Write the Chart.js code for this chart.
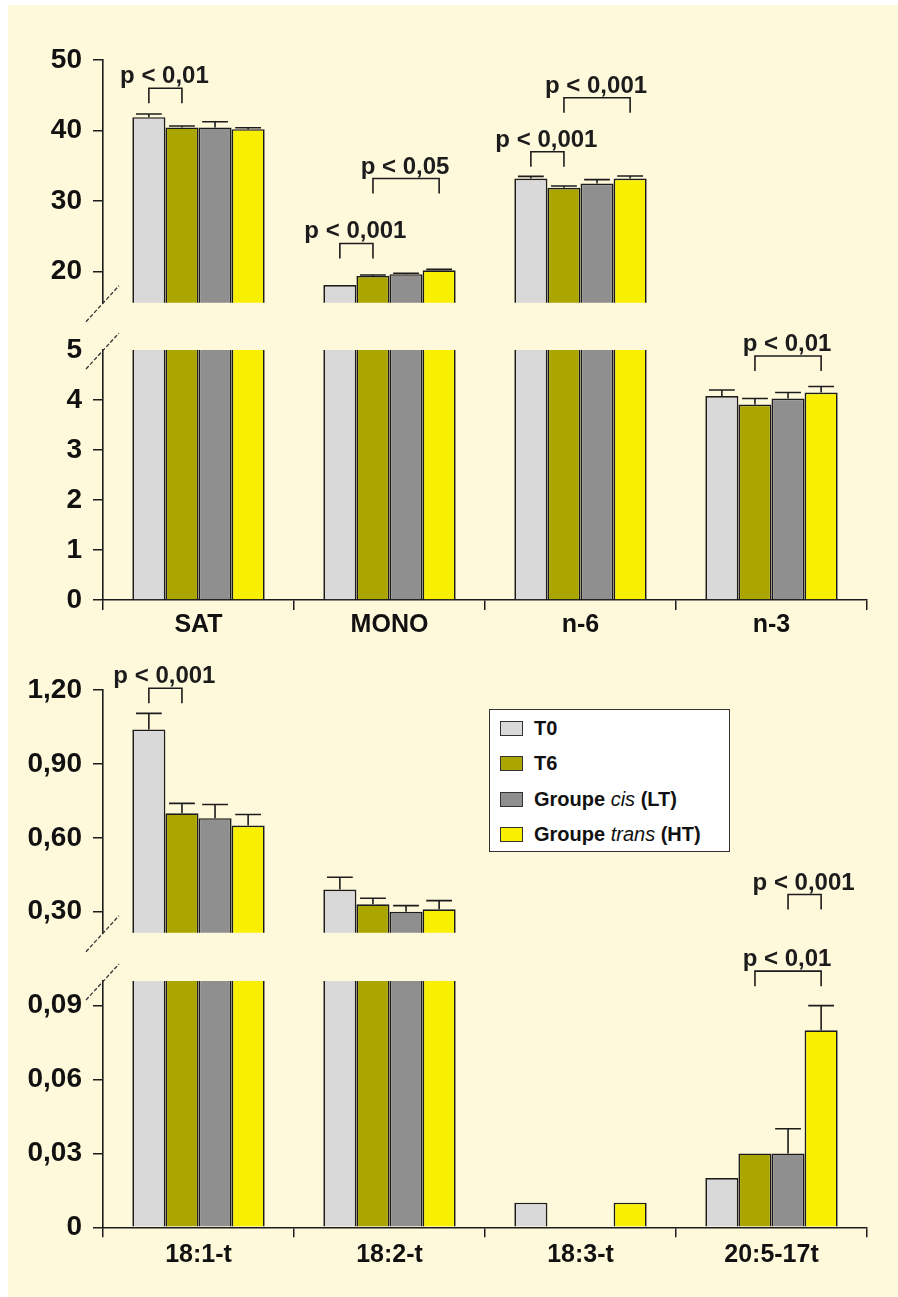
<!DOCTYPE html>
<html>
<head>
<meta charset="utf-8">
<script src="https://cdn.jsdelivr.net/npm/chart.js@4/dist/chart.umd.min.js"></script>
<style>
html,body{margin:0;padding:0;background:#fff;}
#wrap{position:relative;width:898px;height:1297px;overflow:hidden;background:#fff;}
#bg{position:absolute;left:8px;top:5px;right:0;bottom:0;background:#FFF9DC;}
canvas{position:absolute;left:0;}
#legend{position:absolute;left:489px;top:709px;width:241px;height:143px;box-sizing:border-box;background:#fff;border:1.5px solid #333;font:bold 20px "Liberation Sans",Arial,sans-serif;color:#111;}
.li{position:absolute;left:10px;height:20px;display:flex;align-items:center;white-space:nowrap;}
.sw{display:inline-block;width:23px;height:15px;box-sizing:border-box;border:1.5px solid #333;margin-right:11px;}
.li i{font-weight:normal;}
</style>
</head>
<body>
<div id="wrap">
  <div id="bg"></div>
  <canvas id="c1"></canvas>
  <canvas id="c2"></canvas>
  <canvas id="c3"></canvas>
  <canvas id="c4"></canvas>
  <div id="legend"></div>
</div>
<script>
// ---------- DATA ----------
const seriesLabels = ['T0', 'T6', 'Groupe cis (LT)', 'Groupe trans (HT)'];
const seriesItalic = ['', '', 'cis', 'trans'];
const seriesColors = ['#D9D9D9', '#ABA500', '#8F8F8F', '#F8F000'];

const topCategories = ['SAT', 'MONO', 'n-6', 'n-3'];
const topT0    = [41.9, 18.1, 33.2, 4.08];
const topT6    = [40.45, 19.4, 31.9, 3.91];
const topCis   = [40.45, 19.65, 32.5, 4.03];
const topTrans = [40.2, 20.2, 33.2, 4.15];
const topT0Err    = [0.45, 0, 0.3, 0.12];
const topT6Err    = [0.2, 0.12, 0.25, 0.12];
const topCisErr   = [0.8, 0.12, 0.55, 0.12];
const topTransErr = [0.2, 0.12, 0.35, 0.12];

const botCategories = ['18:1-t', '18:2-t', '18:3-t', '20:5-17t'];
const botT0    = [1.04, 0.39, 0.01, 0.02];
const botT6    = [0.70, 0.33, 0, 0.03];
const botCis   = [0.68, 0.30, 0, 0.03];
const botTrans = [0.65, 0.31, 0.01, 0.08];
const botT0Err    = [0.065, 0.05, 0, 0];
const botT6Err    = [0.04, 0.025, 0, 0];
const botCisErr   = [0.055, 0.025, 0, 0.01];
const botTransErr = [0.045, 0.035, 0, 0.01];

// broken axes: upper and lower segments
const topHiRange = [15.6, 50];
const topLoRange = [0, 5];
const botHiRange = [0.215, 1.20];
const botLoRange = [0, 0.10];
const topHiTicks = [20, 30, 40, 50];
const topHiTickLabels = ['20', '30', '40', '50'];
const topLoTicks = [0, 1, 2, 3, 4, 5];
const topLoTickLabels = ['0', '1', '2', '3', '4', '5'];
const botHiTicks = [0.30, 0.60, 0.90, 1.20];
const botHiTickLabels = ['0,30', '0,60', '0,90', '1,20'];
const botLoTicks = [0, 0.03, 0.06, 0.09];
const botLoTickLabels = ['0', '0,03', '0,06', '0,09'];

// significance brackets: [category, series A, series B, bracket level (data units), label]
const topSig = [
  [0, 0, 1, 46.0, 'p < 0,01'],
  [1, 0, 1, 24.0, 'p < 0,001'],
  [1, 1, 3, 33.2, 'p < 0,05'],
  [2, 0, 1, 37.0, 'p < 0,001'],
  [2, 1, 3, 44.65, 'p < 0,001'],
  [3, 1, 3, 4.88, 'p < 0,01']
];
const botSig = [
  [0, 0, 1, 1.207, 'p < 0,001'],
  [3, 2, 3, 0.37, 'p < 0,001'],
  [3, 1, 3, 0.104, 'p < 0,01']
];

// ---------- RENDER ----------
const ink = '#1c1c1c';
Chart.defaults.font.family = '"Liberation Sans", Arial, sans-serif';
Chart.defaults.color = '#111';

const panelPlugin = {
  id: 'panel',
  afterDatasetsDraw(chart, args, opts) {
    const ctx = chart.ctx;
    const ys = chart.scales.y;
    const area = chart.chartArea;
    ctx.save();
    ctx.strokeStyle = ink;
    ctx.lineWidth = 1.6;
    // error bars (upward only)
    chart.data.datasets.forEach((ds, di) => {
      const meta = chart.getDatasetMeta(di);
      ds.errors.forEach((e, i) => {
        const v = ds.data[i];
        if (!e || v < ys.min || v > ys.max) return;
        const bar = meta.data[i];
        const top = ys.getPixelForValue(v + e);
        const cap = bar.width * 0.78;
        ctx.beginPath();
        ctx.moveTo(bar.x, bar.y);
        ctx.lineTo(bar.x, top);
        ctx.moveTo(bar.x - cap / 2, top);
        ctx.lineTo(bar.x + cap / 2, top);
        ctx.stroke();
      });
    });
    // significance brackets
    (opts.sig || []).forEach(([c, a, b, level, text]) => {
      const xa = chart.getDatasetMeta(a).data[c].x;
      const xb = chart.getDatasetMeta(b).data[c].x;
      const yy = ys.getPixelForValue(level);
      ctx.beginPath();
      ctx.moveTo(xa, yy + 15);
      ctx.lineTo(xa, yy);
      ctx.lineTo(xb, yy);
      ctx.lineTo(xb, yy + 15);
      ctx.stroke();
      ctx.font = 'bold 24px "Liberation Sans", Arial, sans-serif';
      ctx.textAlign = 'center';
      ctx.textBaseline = 'alphabetic';
      ctx.fillStyle = ink;
      ctx.fillText(text, (xa + xb) / 2 - 1, yy - 5);
    });
    // axis break mark
    if (opts.brk) {
      const cx = area.left;
      const cy = opts.brk === 'bottom' ? area.bottom : area.top;
      ctx.lineWidth = 1.3;
      ctx.strokeStyle = '#333';
      ctx.setLineDash([4, 2]);
      ctx.beginPath();
      ctx.moveTo(cx - 17, cy + 19);
      ctx.lineTo(cx + 16, cy - 17);
      ctx.stroke();
    }
    ctx.restore();
  }
};

function makeChart(id, top, height, cats, series, errs, range, ticks, tickLabels, sig, brk, showX, padTop, padBottom, xPad) {
  const cv = document.getElementById(id);
  cv.width = 898; cv.height = height;
  cv.style.top = top + 'px';
  cv.style.width = '898px'; cv.style.height = height + 'px';
  const lower = brk === 'top';
  return new Chart(cv, {
    type: 'bar',
    data: {
      labels: cats,
      datasets: series.map((d, i) => ({
        label: seriesLabels[i],
        data: d,
        errors: errs[i],
        backgroundColor: seriesColors[i],
        borderColor: ink,
        borderWidth: 1.7,
        borderSkipped: 'start',
        clip: 0,
        categoryPercentage: 0.693,
        barPercentage: 1
      }))
    },
    options: {
      responsive: false,
      animation: false,
      devicePixelRatio: 1,
      layout: { padding: { left: 0, right: 31, top: padTop, bottom: padBottom } },
      plugins: {
        legend: { display: false },
        tooltip: { enabled: false },
        panel: { sig: sig, brk: brk }
      },
      scales: {
        x: {
          display: showX,
          offset: true,
          grid: { display: true, offset: true, drawOnChartArea: false, drawTicks: true, tickLength: 10, color: ink, lineWidth: 1.5 },
          border: { display: true, color: ink, width: 1.6 },
          ticks: { color: '#111', font: { size: 25, weight: 'bold' }, padding: xPad, maxRotation: 0, autoSkip: false },
          afterFit: s => { s.height = showX ? 40 : 0; }
        },
        y: {
          min: range[0],
          max: range[1],
          afterBuildTicks: s => { s.ticks = ticks.map(v => ({ value: v })); },
          ticks: {
            callback: (v, i) => tickLabels[i],
            color: '#111',
            font: { size: 28, weight: 'bold' },
            padding: 11
          },
          grid: {
            drawOnChartArea: false, drawTicks: true, tickLength: 10, lineWidth: 1.5,
            color: c => (lower && c.tick && c.tick.value === range[1]) ? 'rgba(0,0,0,0)' : ink
          },
          border: { display: true, color: ink, width: 1.6 },
          afterFit: s => { s.width = 103; }
        }
      }
    },
    plugins: [panelPlugin]
  });
}

const topSeries = [topT0, topT6, topCis, topTrans];
const topErrs = [topT0Err, topT6Err, topCisErr, topTransErr];
const botSeries = [botT0, botT6, botCis, botTrans];
const botErrs = [botT0Err, botT6Err, botCisErr, botTransErr];

const inHi = (r) => s => s[3] >= r[0];
makeChart('c1', 0, 335, topCategories, topSeries, topErrs, topHiRange, topHiTicks, topHiTickLabels,
  topSig.filter(inHi(topHiRange)), 'bottom', false, 60, 32.3, 0);
makeChart('c2', 320, 340, topCategories, topSeries, topErrs, topLoRange, topLoTicks, topLoTickLabels,
  topSig.filter(s => !inHi(topHiRange)(s)), 'top', true, 30, 20, 0);
makeChart('c3', 640, 330, botCategories, botSeries, botErrs, botHiRange, botHiTicks, botHiTickLabels,
  botSig.filter(inHi(botHiRange)), 'bottom', false, 50, 37.3, 0);
makeChart('c4', 940, 357, botCategories, botSeries, botErrs, botLoRange, botLoTicks, botLoTickLabels,
  botSig.filter(s => !inHi(botHiRange)(s)), 'top', true, 41, 29.7, 3);

// legend (HTML, built from the series)
const legend = document.getElementById('legend');
seriesLabels.forEach((lab, i) => {
  const row = document.createElement('div');
  row.className = 'li';
  row.style.top = (8.5 + i * 35.3) + 'px';
  const sw = document.createElement('span');
  sw.className = 'sw';
  sw.style.background = seriesColors[i];
  const tx = document.createElement('span');
  const it = seriesItalic[i];
  if (it) {
    const k = lab.indexOf(it);
    const em = document.createElement('i');
    em.textContent = it;
    tx.append(lab.slice(0, k), em, lab.slice(k + it.length));
  } else {
    tx.textContent = lab;
  }
  row.append(sw, tx);
  legend.append(row);
});
</script>
</body>
</html>
